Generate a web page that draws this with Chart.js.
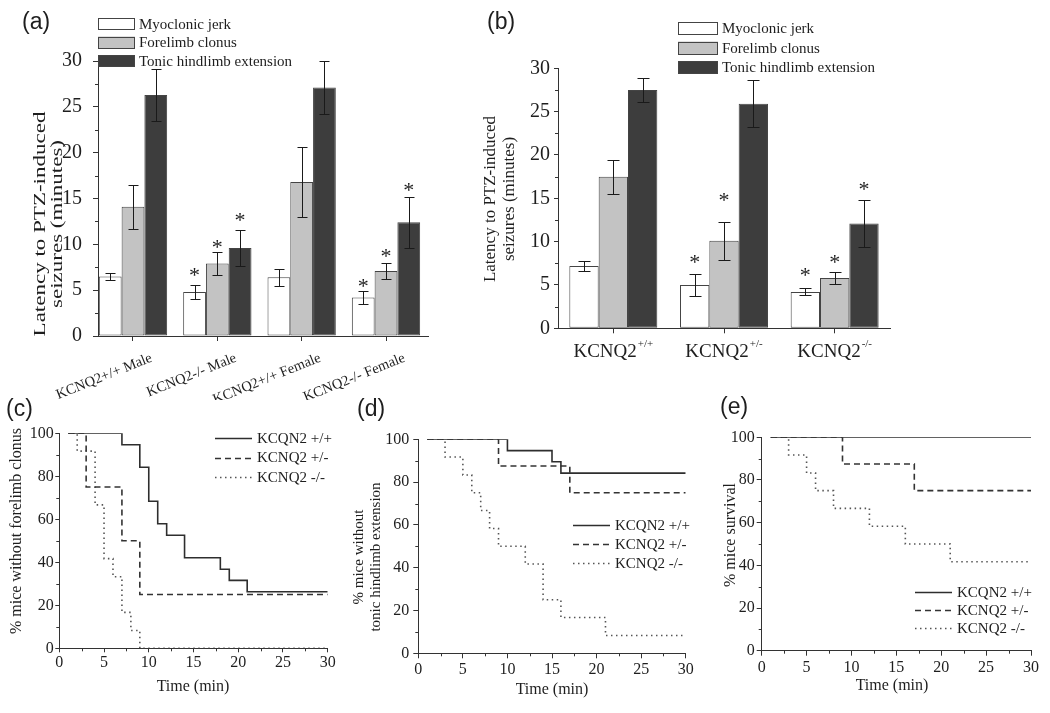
<!DOCTYPE html>
<html>
<head>
<meta charset="utf-8">
<title>KCNQ2 and PTZ-induced seizures</title>
<script src="https://cdn.jsdelivr.net/npm/chart.js@4.4.1/dist/chart.umd.min.js"></script>
<style>
  html, body { margin: 0; padding: 0; background: #fff; }
  #page { position: relative; width: 1050px; height: 713px; overflow: hidden; background: #fff; }
  #page canvas { position: absolute; }
</style>
</head>
<body>
<div id="page">
  <canvas id="ca" width="440" height="400" style="left:0;top:0"></canvas>
  <canvas id="cb" width="560" height="380" style="left:440px;top:0"></canvas>
  <canvas id="cc" width="350" height="333" style="left:0;top:380px"></canvas>
  <canvas id="cd" width="350" height="333" style="left:350px;top:380px"></canvas>
  <canvas id="ce" width="350" height="333" style="left:700px;top:380px"></canvas>
</div>
<script>
// --- DATA ---
const seriesNames = ['Myoclonic jerk', 'Forelimb clonus', 'Tonic hindlimb extension'];

// (a) latency by genotype and sex (minutes, mean and error)
const groupsA = ['KCNQ2+/+ Male', 'KCNQ2-/- Male', 'KCNQ2+/+ Female', 'KCNQ2-/- Female'];
const jerkA = [6.5, 4.8, 6.4, 4.2];
const jerkErrA = [0.4, 0.8, 0.9, 0.7];
const clonusA = [14.1, 7.9, 16.8, 7.1];
const clonusErrA = [2.4, 1.25, 3.85, 0.9];
const tonicA = [26.3, 9.6, 27.1, 12.4];
const tonicErrA = [2.8, 2.0, 2.9, 2.75];
const jerkStarA = [null, 7.0, null, 5.8];
const clonusStarA = [null, 10.1, null, 9.1];
const tonicStarA = [null, 13.0, null, 16.3];

// (b) latency by genotype
const genoB = ['+/+', '+/-', '-/-'];
const jerkB = [7.2, 5.0, 4.2];
const jerkErrB = [0.6, 1.25, 0.4];
const clonusB = [17.5, 10.1, 5.8];
const clonusErrB = [1.95, 2.2, 0.7];
const tonicB = [27.5, 25.9, 12.1];
const tonicErrB = [1.4, 2.7, 2.75];
const jerkStarB = [null, 8.1, 6.5];
const clonusStarB = [null, 15.2, 8.0];
const tonicStarB = [null, null, 16.5];

// (c)(d)(e) survival curves
const lineNames = ['KCQN2 +/+', 'KCNQ2 +/-', 'KCNQ2 -/-'];
const yTicksPct = [0, 20, 40, 60, 80, 100];
const xTicksMin = [0, 5, 10, 15, 20, 25, 30];

const timeWtC = [1, 7, 9, 10, 11, 12, 14, 18, 19, 21, 30];
const survWtC = [100, 94.7, 84.2, 68.4, 57.9, 52.6, 42.1, 36.8, 31.6, 26.3, 26.3];
const timeHetC = [1, 3, 7, 9, 30];
const survHetC = [100, 75, 50, 25, 25];
const timeKoC = [1, 2, 4, 5, 6, 7, 8, 9, 30];
const survKoC = [100, 91.7, 66.7, 41.7, 33.3, 16.7, 8.3, 0, 0];

const timeWtD = [1, 10, 15, 16, 30];
const survWtD = [100, 94.7, 89.5, 84.2, 84.2];
const timeHetD = [1, 9, 17, 30];
const survHetD = [100, 87.5, 75, 75];
const timeKoD = [1, 3, 5, 6, 7, 8, 9, 12, 14, 16, 21, 30];
const survKoD = [100, 91.7, 83.3, 75, 66.7, 58.3, 50, 41.7, 25, 16.7, 8.3, 8.3];

const timeWtE = [1, 30];
const survWtE = [100, 100];
const timeHetE = [1, 9, 17, 30];
const survHetE = [100, 87.5, 75, 75];
const timeKoE = [1, 3, 5, 6, 8, 12, 16, 21, 30];
const survKoE = [100, 91.7, 83.3, 75, 66.7, 58.3, 50, 41.7, 41.7];

// --- STYLE ---
const SERIF = "'Liberation Serif', 'Times New Roman', serif";
const SANS = "'Liberation Sans', Arial, sans-serif";
const INK = '#1e1e1e';
const AXIS = '#333';
const FILLS = ['#ffffff', '#c3c3c3', '#3d3d3d'];
const EDGE = '#444';
const LINE_STYLES = [
  { borderColor: '#2e2e2e', borderWidth: 1.6, borderDash: [] },
  { borderColor: '#333', borderWidth: 1.6, borderDash: [6, 4] },
  { borderColor: '#555', borderWidth: 1.6, borderDash: [1.5, 3.5] }
];

const range = (a, b, step) => { const out = []; for (let v = a; v <= b + 1e-9; v += step) out.push(v); return out; };

// --- DRAWING EXTRAS (error bars, stars, legends, titles) ---
const decorCfg = {};

const hLine = (ctx, x1, y1, x2, y2) => { ctx.beginPath(); ctx.moveTo(x1, y1); ctx.lineTo(x2, y2); ctx.stroke(); };

const vText = (ctx, text, x, y, size, squash) => {
  ctx.save();
  ctx.translate(x, y); ctx.rotate(-Math.PI / 2); ctx.scale(1, squash || 1);
  ctx.font = `${size}px ${SERIF}`; ctx.textAlign = 'center'; ctx.textBaseline = 'middle';
  ctx.fillText(text, 0, 0);
  ctx.restore();
};

Chart.register({
  id: 'decor',
  afterDatasetsDraw(chart) {
    const cfg = decorCfg[chart.canvas.id];
    if (!cfg || !cfg.errors) return;
    const ctx = chart.ctx, ys = chart.scales.y;
    ctx.save();
    ctx.strokeStyle = '#1a1a1a'; ctx.lineWidth = 1;
    cfg.errors.forEach((errs, di) => {
      const vals = cfg.values[di];
      chart.getDatasetMeta(di).data.forEach((bar, i) => {
        const x = Math.round(bar.x) + 0.5;
        const t = Math.round(ys.getPixelForValue(vals[i] + errs[i])) + 0.5;
        const b = Math.round(ys.getPixelForValue(vals[i] - errs[i])) + 0.5;
        hLine(ctx, x, t, x, b);
        hLine(ctx, x - cfg.cap, t, x + cfg.cap, t);
        hLine(ctx, x - cfg.cap, b, x + cfg.cap, b);
      });
    });
    ctx.fillStyle = INK; ctx.font = `22px ${SERIF}`; ctx.textAlign = 'center'; ctx.textBaseline = 'alphabetic';
    cfg.stars.forEach((st, di) => {
      const meta = chart.getDatasetMeta(di);
      st.forEach((v, i) => {
        if (v == null) return;
        ctx.fillText('*', meta.data[i].x, ys.getPixelForValue(v) + 10.5);
      });
    });
    ctx.restore();
  },
  afterDraw(chart) {
    const cfg = decorCfg[chart.canvas.id];
    if (!cfg) return;
    const ctx = chart.ctx, xs = chart.scales.x, ys = chart.scales.y;
    ctx.save();
    ctx.strokeStyle = AXIS; ctx.lineWidth = 1;
    (cfg.minorX || []).forEach(v => { const p = Math.round(xs.getPixelForValue(v)) + 0.5; hLine(ctx, p, xs.top, p, xs.top + 3); });
    (cfg.minorY || []).forEach(v => { const p = Math.round(ys.getPixelForValue(v)) + 0.5; hLine(ctx, ys.right - 3, p, ys.right, p); });

    // custom category labels, in canvas coords
    ctx.fillStyle = INK;
    if (cfg.tiltLabels) {
      const L = cfg.tiltLabels;
      ctx.font = `${L.size}px ${SERIF}`; ctx.textAlign = 'right'; ctx.textBaseline = 'alphabetic';
      L.labels.forEach((lab, i) => {
        ctx.save();
        ctx.translate(xs.getPixelForValue(i) + L.dx, L.y - cfg.oy);
        ctx.rotate(-L.angle * Math.PI / 180);
        ctx.fillText(lab, 0, 0);
        ctx.restore();
      });
    }
    if (cfg.supLabels) {
      const L = cfg.supLabels;
      ctx.textAlign = 'left'; ctx.textBaseline = 'alphabetic';
      L.sups.forEach((sup, i) => {
        ctx.font = `${L.size}px ${SERIF}`; const w1 = ctx.measureText(L.base).width;
        ctx.font = `${L.supSize}px ${SERIF}`; const w2 = ctx.measureText(sup).width;
        const x0 = xs.getPixelForValue(i) - (w1 + w2 + 1) / 2;
        ctx.font = `${L.size}px ${SERIF}`; ctx.fillText(L.base, x0, L.y - cfg.oy);
        ctx.font = `${L.supSize}px ${SERIF}`; ctx.fillText(sup, x0 + w1 + 1, L.y - cfg.oy - L.raise);
      });
    }

    // everything below in page coords
    ctx.translate(-cfg.ox, -cfg.oy);
    ctx.font = `23px ${SANS}`; ctx.textAlign = 'left'; ctx.textBaseline = 'alphabetic';
    ctx.fillText(cfg.panel.text, cfg.panel.x, cfg.panel.y);

    const yt = cfg.yTitle;
    yt.lines.forEach((ln, k) => vText(ctx, ln, yt.xs[k], yt.cy, yt.size, yt.squash));
    if (cfg.xTitle) {
      ctx.font = `${cfg.xTitle.size}px ${SERIF}`; ctx.textAlign = 'center'; ctx.textBaseline = 'alphabetic';
      ctx.fillText(cfg.xTitle.text, cfg.xTitle.cx, cfg.xTitle.y);
    }

    const lg = cfg.legend;
    ctx.font = `${lg.size}px ${SERIF}`; ctx.textAlign = 'left'; ctx.textBaseline = 'middle';
    chart.data.datasets.forEach((ds, k) => {
      const cy = lg.y + k * lg.dy;
      if (lg.kind === 'box') {
        ctx.fillStyle = ds.backgroundColor; ctx.fillRect(lg.x, cy - lg.h / 2, lg.w, lg.h);
        ctx.strokeStyle = EDGE; ctx.lineWidth = 1; ctx.setLineDash([]);
        ctx.strokeRect(lg.x + 0.5, Math.round(cy - lg.h / 2) + 0.5, lg.w - 1, lg.h - 1);
      } else {
        ctx.strokeStyle = ds.borderColor; ctx.lineWidth = ds.borderWidth; ctx.setLineDash(ds.borderDash);
        hLine(ctx, lg.x, Math.round(cy) + 0.5, lg.x + lg.w, Math.round(cy) + 0.5);
        ctx.setLineDash([]);
      }
      ctx.fillStyle = INK;
      ctx.fillText(ds.label, lg.tx, cy + 1);
    });
    ctx.restore();
  }
});

// --- SHARED AXIS BUILDERS ---
const axisGrid = (len) => ({ drawOnChartArea: false, drawTicks: true, tickLength: len, color: AXIS, tickColor: AXIS, offset: false });
const axisBorder = { display: true, color: AXIS, width: 1 };
const baseOptions = (pad) => ({
  responsive: false, animation: false, devicePixelRatio: 1,
  layout: { padding: pad },
  plugins: { legend: { display: false }, tooltip: { enabled: false }, title: { display: false } },
  events: []
});

// --- (a) bars, linear index axis so groups line up with the original ---
const valsA = [jerkA, clonusA, tonicA];
decorCfg.ca = {
  ox: 0, oy: 0,
  values: valsA, errors: [jerkErrA, clonusErrA, tonicErrA], cap: 5,
  stars: [jerkStarA, clonusStarA, tonicStarA],
  minorY: range(2.5, 27.5, 5),
  tiltLabels: { labels: groupsA, dx: 20, y: 361, angle: 22, size: 14.5 },
  panel: { text: '(a)', x: 22, y: 29 },
  yTitle: { lines: ['Latency to PTZ-induced', 'seizures (minutes)'], xs: [41, 58], cy: 224, size: 23, squash: 0.72 },
  legend: { kind: 'box', x: 98, y: 24, dy: 18.5, w: 37, h: 12, tx: 139, size: 15 }
};
new Chart(document.getElementById('ca'), {
  type: 'bar',
  data: {
    datasets: valsA.map((vals, k) => ({
      label: seriesNames[k],
      data: vals.map((v, i) => ({ x: i, y: v })),
      backgroundColor: FILLS[k], borderColor: EDGE, borderWidth: 1, borderSkipped: false,
      categoryPercentage: 0.81, barPercentage: 1
    }))
  },
  options: Object.assign(baseOptions({ left: 0, top: 61, right: 12, bottom: 0 }), {
    scales: {
      x: {
        type: 'linear', min: -0.415, max: 3.498, offset: false,
        afterBuildTicks: s => { s.ticks = groupsA.map((_, i) => ({ value: i })); },
        afterFit: s => { s.height = 64; },
        ticks: { display: false },
        grid: axisGrid(5), border: axisBorder
      },
      y: {
        min: 0, max: 30,
        afterFit: s => { s.width = 98; },
        ticks: { stepSize: 5, padding: 11, color: INK, font: { family: SERIF, size: 20 } },
        grid: axisGrid(5), border: axisBorder
      }
    }
  })
});

// --- (b) bars by genotype ---
const valsB = [jerkB, clonusB, tonicB];
decorCfg.cb = {
  ox: 440, oy: 0,
  values: valsB, errors: [jerkErrB, clonusErrB, tonicErrB], cap: 6,
  stars: [jerkStarB, clonusStarB, tonicStarB],
  minorY: range(2.5, 27.5, 5),
  supLabels: { base: 'KCNQ2', sups: genoB, y: 357, size: 19, supSize: 11, raise: 10 },
  panel: { text: '(b)', x: 487, y: 29 },
  yTitle: { lines: ['Latency to PTZ-induced', 'seizures (minutes)'], xs: [491, 510], cy: 199, size: 17, squash: 1 },
  legend: { kind: 'box', x: 678, y: 28.5, dy: 19.5, w: 40, h: 13, tx: 722, size: 15 }
};
new Chart(document.getElementById('cb'), {
  type: 'bar',
  data: {
    labels: genoB.map(g => 'KCNQ2' + g),
    datasets: valsB.map((vals, k) => ({
      label: seriesNames[k], data: vals,
      backgroundColor: FILLS[k], borderColor: EDGE, borderWidth: 1, borderSkipped: false,
      categoryPercentage: 0.795, barPercentage: 1
    }))
  },
  options: Object.assign(baseOptions({ left: 0, top: 68.3, right: 110, bottom: 0 }), {
    scales: {
      x: {
        offset: true,
        afterFit: s => { s.height = 51.7; },
        ticks: { display: false },
        grid: axisGrid(5), border: axisBorder
      },
      y: {
        min: 0, max: 30,
        afterFit: s => { s.width = 118; },
        ticks: { stepSize: 5, padding: 4, color: INK, font: { family: SERIF, size: 20 } },
        grid: axisGrid(4), border: axisBorder
      }
    }
  })
});

// --- (c)(d)(e) step survival curves ---
const survivalChart = (id, times, survs, box, xPad, yPad, xTickLen) => {
  new Chart(document.getElementById(id), {
    type: 'line',
    data: {
      datasets: times.map((t, k) => Object.assign({
        label: lineNames[k],
        data: t.map((x, i) => ({ x: x, y: survs[k][i] })),
        stepped: 'before', pointRadius: 0, fill: false, borderCapStyle: 'butt'
      }, LINE_STYLES[k]))
    },
    options: Object.assign(baseOptions({ left: 0, top: box.top, right: box.right, bottom: 0 }), {
      scales: {
        x: {
          type: 'linear', min: 0, max: 30,
          afterBuildTicks: s => { s.ticks = xTicksMin.map(v => ({ value: v })); },
          afterFit: s => { s.height = box.xh; },
          ticks: { padding: xPad, color: INK, maxRotation: 0, font: { family: SERIF, size: 16 } },
          grid: axisGrid(xTickLen), border: axisBorder
        },
        y: {
          min: 0, max: 100,
          afterBuildTicks: s => { s.ticks = yTicksPct.map(v => ({ value: v })); },
          afterFit: s => { s.width = box.left; },
          ticks: { padding: yPad, color: INK, font: { family: SERIF, size: 16 } },
          grid: axisGrid(xTickLen), border: axisBorder
        }
      }
    })
  });
};

decorCfg.cc = {
  ox: 0, oy: 380,
  minorX: range(2.5, 27.5, 5), minorY: range(10, 90, 20),
  panel: { text: '(c)', x: 6, y: 416 },
  yTitle: { lines: ['% mice without forelimb clonus'], xs: [17], cy: 531, size: 16 },
  xTitle: { text: 'Time (min)', cx: 193, y: 691, size: 16 },
  legend: { kind: 'line', x: 215, y: 438, dy: 19.5, w: 37, tx: 257, size: 15 }
};
survivalChart('cc', [timeWtC, timeHetC, timeKoC], [survWtC, survHetC, survKoC],
  { left: 59.3, right: 22.3, top: 53.3, xh: 64.7 }, 1, 1.5, 4);

decorCfg.cd = {
  ox: 350, oy: 380,
  minorX: range(2.5, 27.5, 5), minorY: range(10, 90, 20),
  panel: { text: '(d)', x: 357, y: 416 },
  yTitle: { lines: ['% mice without', 'tonic hindlimb extension'], xs: [359, 376], cy: 557, size: 15 },
  xTitle: { text: 'Time (min)', cx: 552, y: 694, size: 16 },
  legend: { kind: 'line', x: 573, y: 525, dy: 19, w: 37, tx: 615, size: 15 }
};
survivalChart('cd', [timeWtD, timeHetD, timeKoD], [survWtD, survHetD, survKoD],
  { left: 68.3, right: 14.3, top: 59.3, xh: 59.7 }, 1.5, 4, 5);

decorCfg.ce = {
  ox: 700, oy: 380,
  minorX: range(2.5, 27.5, 5), minorY: range(10, 90, 20),
  panel: { text: '(e)', x: 720, y: 414 },
  yTitle: { lines: ['% mice survival'], xs: [731], cy: 535, size: 16 },
  xTitle: { text: 'Time (min)', cx: 892, y: 690, size: 16 },
  legend: { kind: 'line', x: 915, y: 592, dy: 18, w: 37, tx: 957, size: 15 }
};
survivalChart('ce', [timeWtE, timeHetE, timeKoE], [survWtE, survHetE, survKoE],
  { left: 61.7, right: 19, top: 57.3, xh: 62.3 }, 2.3, 2, 5);
</script>
</body>
</html>
